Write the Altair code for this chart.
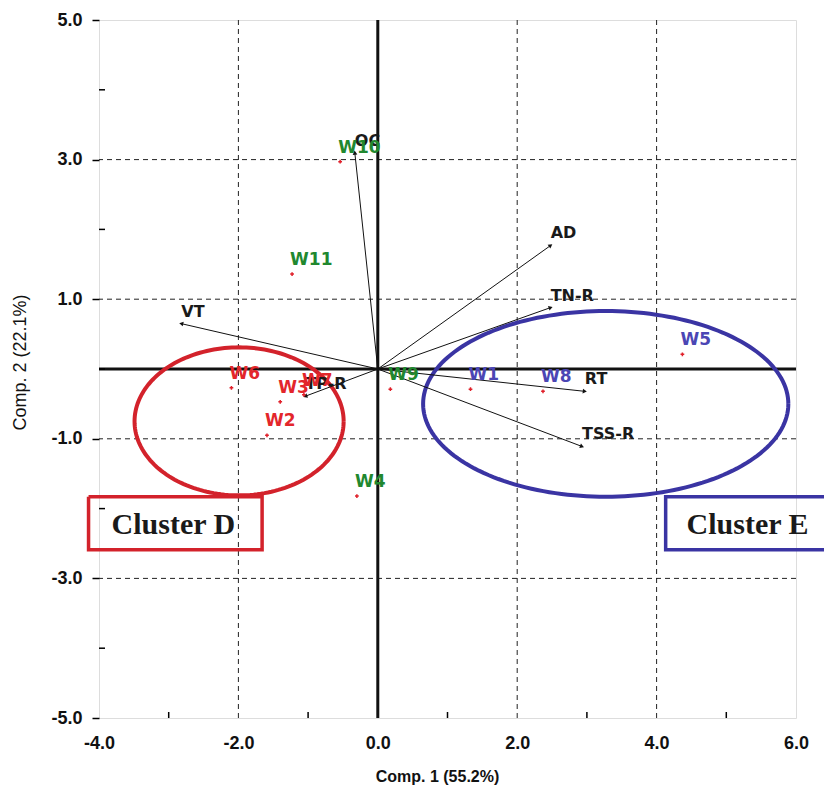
import altair as alt
import pandas as pd
import numpy as np

# ---- sample scores (PC1, PC2) ----
sample_names = ["W1", "W2", "W3", "W4", "W5", "W6", "W7", "W8", "W9", "W10", "W11"]
sample_x = [1.33, -1.59, -1.40, -0.30, 4.37, -2.10, -1.06, 2.37, 0.18, -0.54, -1.23]
sample_y = [-0.29, -0.95, -0.47, -1.82, 0.21, -0.27, -0.37, -0.32, -0.29, 2.97, 1.36]
sample_group = ["E", "D", "D", "N", "E", "D", "D", "E", "N", "N", "N"]

# ---- variable loadings (arrows) ----
var_names = ["OC", "AD", "TN-R", "VT", "RT", "TSS-R", "TP-R"]
var_x = [-0.33, 2.48, 2.48, -2.82, 2.97, 2.93, -1.04]
var_y = [3.10, 1.77, 0.88, 0.65, -0.32, -1.11, -0.39]

# ---- cluster ellipses / boxes ----
cluster_names = ["Cluster D", "Cluster E"]
cluster_cx = [-1.99, 3.27]
cluster_cy = [-0.75, -0.50]
cluster_a = [1.50, 2.62]
cluster_b = [1.06, 1.33]
cluster_colors = ["#d3222b", "#3a34a3"]
# box outlines (Cluster E box runs off the right edge of the figure)
box_d_x = [-4.15, -1.66, -1.66, -4.15, -4.15]
box_d_y = [-1.83, -1.83, -2.59, -2.59, -1.83]
box_e_x = [7.00, 4.13, 4.13, 7.00]
box_e_y = [-1.83, -1.83, -2.59, -2.59]
box_text_x = [-3.82, 4.43]
box_text_y = [-2.24, -2.24]

x_ticks = [-4, -2, 0, 2, 4, 6]
y_ticks = [-5, -3, -1, 1, 3, 5]
x_grid = [-2, 2, 4]
y_grid = [-3, -1, 1, 3]
x_minor = [-3, -1, 1, 3, 5]
y_minor = [-4, -2, 0, 2, 4]

group_colors = {"D": "#e3262b", "E": "#4b46b4", "N": "#21882f"}

# ---- tables ----
samples = pd.DataFrame({"name": sample_names, "x": sample_x, "y": sample_y,
                        "col": [group_colors[g] for g in sample_group]})
vx = np.array(var_x)
vy = np.array(var_y)
vars_df = pd.DataFrame({"name": var_names, "x": vx, "y": vy,
                        "x0": 0.0, "y0": 0.0,
                        "ang": np.mod(np.degrees(np.arctan2(-vy, vx)), 360)})

t = np.linspace(0, 2 * np.pi, 181)
ell_rows = []
for i, nm in enumerate(cluster_names):
    for k, tt in enumerate(t):
        ell_rows.append({"cl": nm, "o": k,
                         "x": cluster_cx[i] + cluster_a[i] * np.cos(tt),
                         "y": cluster_cy[i] + cluster_b[i] * np.sin(tt),
                         "col": cluster_colors[i]})
ell = pd.DataFrame(ell_rows)

box_rows = []
for k, (bx, by) in enumerate(zip(box_d_x, box_d_y)):
    box_rows.append({"cl": "D", "o": k, "x": bx, "y": by, "col": cluster_colors[0]})
for k, (bx, by) in enumerate(zip(box_e_x, box_e_y)):
    box_rows.append({"cl": "E", "o": k, "x": bx, "y": by, "col": cluster_colors[1]})
boxes = pd.DataFrame(box_rows)
box_labels = pd.DataFrame({"cl": cluster_names, "tx": box_text_x, "ty": box_text_y})

xs = alt.Scale(domain=[-4, 6], nice=False, zero=False)
ys = alt.Scale(domain=[-5, 5], nice=False, zero=False)
neg_lbl = "datum.value < 0 ? '-' + format(abs(datum.value), '.1f') : format(datum.value, '.1f')"
SANS = "Liberation Sans, Arial, Helvetica, sans-serif"
xaxis = alt.Axis(values=x_ticks, grid=False, ticks=False, domain=False,
                 labelExpr=neg_lbl, labelFont=SANS, labelFontWeight="bold",
                 labelFontSize=18, labelColor="#111", labelPadding=16, labelFlush=False,
                 title="Comp. 1 (55.2%)", titleFont=SANS,
                 titleFontWeight="bold", titleFontSize=16, titleColor="#111",
                 titleX=338, titleY=50, titleBaseline="top", titleAlign="center")
yaxis = alt.Axis(values=y_ticks, grid=False, tickSize=7, tickWidth=1.5, tickColor="black",
                 domain=False, labelExpr=neg_lbl, labelFont=SANS, labelFlush=False,
                 labelFontWeight="bold", labelFontSize=18, labelColor="#111", labelPadding=10,
                 title="Comp. 2 (22.1%)", titleFont=SANS,
                 titleFontWeight="normal", titleFontSize=18, titleColor="#111",
                 titleAngle=270, titleX=-79, titleY=342, titleBaseline="middle",
                 titleAlign="center")


def X(f):
    return alt.X(f, type="quantitative", scale=xs, axis=xaxis)


def Y(f):
    return alt.Y(f, type="quantitative", scale=ys, axis=yaxis)


gx = alt.Chart(pd.DataFrame({"v": x_grid})).mark_rule(
    color="#222", strokeDash=[5, 4], strokeWidth=1).encode(x=X("v"))
gy = alt.Chart(pd.DataFrame({"v": y_grid})).mark_rule(
    color="#222", strokeDash=[5, 4], strokeWidth=1).encode(y=Y("v"))
zx = alt.Chart(pd.DataFrame({"v": [0]})).mark_rule(color="#111", strokeWidth=3).encode(x=X("v"))
zy = alt.Chart(pd.DataFrame({"v": [0]})).mark_rule(color="#111", strokeWidth=3).encode(y=Y("v"))
mx = alt.Chart(pd.DataFrame({"v": x_minor})).mark_rule(color="black", strokeWidth=1.5).encode(
    x=X("v"), y=alt.value(698), y2=alt.value(692))
my = alt.Chart(pd.DataFrame({"v": y_minor})).mark_rule(color="black", strokeWidth=1.5).encode(
    y=Y("v"), x=alt.value(0), x2=alt.value(6))

ellipses = alt.Chart(ell).mark_line(strokeWidth=4).encode(
    x=X("x"), y=Y("y"), order="o:Q", detail="cl:N",
    color=alt.Color("col:N", scale=None))

box = alt.Chart(boxes).mark_line(strokeWidth=3.5, clip=False, strokeJoin="miter").encode(
    x=X("x"), y=Y("y"), order="o:Q", detail="cl:N",
    color=alt.Color("col:N", scale=None))
box_txt = alt.Chart(box_labels).mark_text(
    align="left", baseline="middle", font="Liberation Serif", fontWeight="bold",
    fontSize=30, color="#1a1a1a", clip=False).encode(x=X("tx"), y=Y("ty"), text="cl:N")

arrows = alt.Chart(vars_df).mark_rule(color="#111", strokeWidth=1).encode(
    x=X("x0"), y=Y("y0"), x2="x", y2="y")
heads = alt.Chart(vars_df).mark_point(shape="triangle-right", filled=True, size=22,
                                      color="#111", opacity=1).encode(
    x=X("x"), y=Y("y"), angle=alt.Angle("ang:Q", scale=None))
var_lbl = alt.Chart(vars_df).mark_text(
    align="left", baseline="alphabetic", dx=0, dy=-7, font="DejaVu Sans",
    fontWeight="bold", fontSize=16, color="#1a1a1a").encode(
    x=X("x"), y=Y("y"), text="name:N")

pts = alt.Chart(samples).mark_point(shape="cross", filled=True, size=14,
                                    color="#e0202a", opacity=1).encode(x=X("x"), y=Y("y"))
pt_lbl = alt.Chart(samples).mark_text(
    align="left", baseline="alphabetic", dx=-2, dy=-9, font="DejaVu Sans",
    fontWeight="bold", fontSize=17).encode(
    x=X("x"), y=Y("y"), text="name:N", color=alt.Color("col:N", scale=None))

chart = alt.layer(gx, gy, zx, zy, mx, my, ellipses, box, box_txt, arrows, heads,
                  var_lbl, pts, pt_lbl).properties(
    width=697, height=698,
    autosize=alt.AutoSizeParams(type="none"),
    padding={"left": 91, "top": 12, "right": 28, "bottom": 70},
).configure_view(stroke="black", strokeWidth=2).configure(background="white")

chart.save("out.html", embed_options={"renderer": "svg", "actions": False})
